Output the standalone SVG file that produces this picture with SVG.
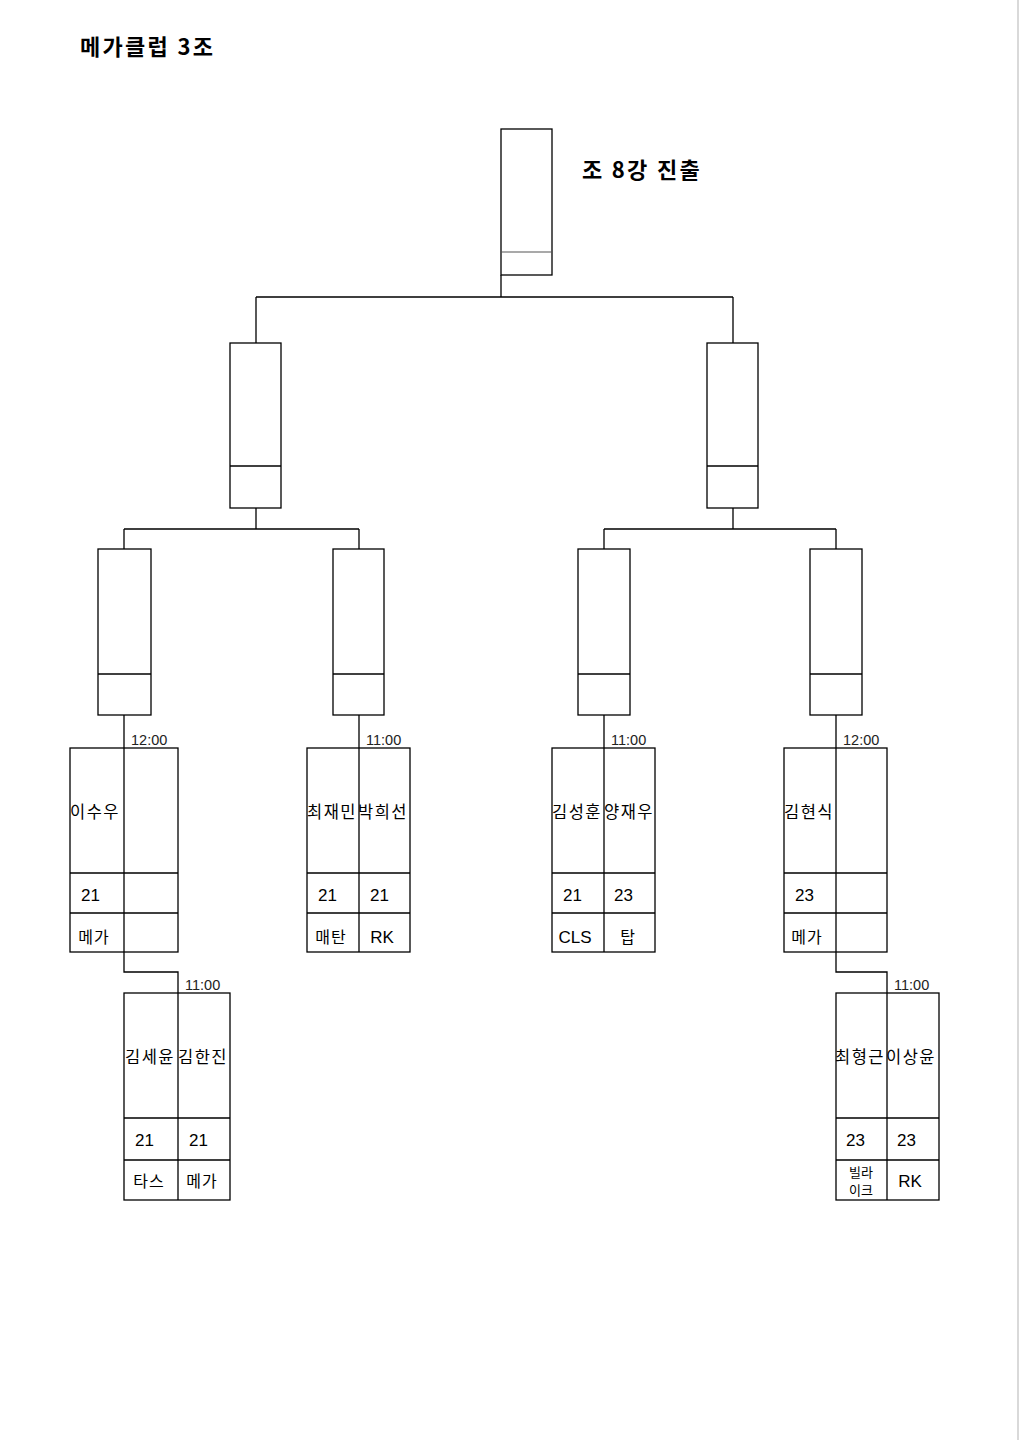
<svg xmlns="http://www.w3.org/2000/svg" width="1019" height="1440" viewBox="0 0 1019 1440">
<style>
.b{fill:none;stroke:#000;stroke-width:1.3}
.d{stroke:#555;stroke-width:1.2}
.c{fill:none;stroke:#000;stroke-width:1.3}
text{font-family:"Noto Sans CJK KR","Noto Sans",sans-serif;fill:#000}
.t{font-size:22px;font-weight:bold;letter-spacing:2.3px}
.n{font-size:16.5px;text-anchor:middle;letter-spacing:1.5px}
.s{font-size:17px;font-family:"Liberation Sans","Noto Sans CJK KR",sans-serif}
.m{font-size:16px;text-anchor:middle;letter-spacing:1px}
.l{font-size:17px;text-anchor:middle;font-family:"Liberation Sans",sans-serif}
.tm{font-size:14.5px;font-family:"Liberation Sans",sans-serif;fill:#222}
.sm{font-size:13px;text-anchor:middle}
</style>
<defs>
<clipPath id="c1"><rect x="70" y="748" width="54" height="125"/></clipPath>
<clipPath id="c3"><rect x="307" y="748" width="52" height="125"/></clipPath>
<clipPath id="c4"><rect x="359" y="748" width="51" height="125"/></clipPath>
<clipPath id="c5"><rect x="552" y="748" width="52" height="125"/></clipPath>
<clipPath id="c6"><rect x="604" y="748" width="51" height="125"/></clipPath>
<clipPath id="c7"><rect x="784" y="748" width="52" height="125"/></clipPath>
<clipPath id="c8"><rect x="124" y="993" width="54" height="125"/></clipPath>
<clipPath id="c9"><rect x="178" y="993" width="52" height="125"/></clipPath>
<clipPath id="c10"><rect x="836" y="993" width="51" height="125"/></clipPath>
<clipPath id="c11"><rect x="887" y="993" width="52" height="125"/></clipPath>
</defs>
<rect width="1019" height="1440" fill="#fff"/>
<line x1="1018" y1="0" x2="1018" y2="1440" stroke="#ccc" stroke-width="1.5"/>
<text id="title" class="t" x="80" y="55">메가클럽 3조</text>
<text id="subtitle" class="t" x="582" y="178">조 8강 진출</text>

<g id="connectors">
<path class="c" d="M501 275V297M256 297H733M256 297V343M733 297V343"/>
<path class="c" d="M256 508V529M124 529H359M124 529V549M359 529V549"/>
<path class="c" d="M733 508V529M604 529H836M604 529V549M836 529V549"/>
<path class="c" d="M124 715V972H178V1200"/>
<path class="c" d="M359 715V952M604 715V952"/>
<path class="c" d="M836 715V972H887V1200"/>
</g>

<g id="final"><rect class="b" x="501" y="129" width="51" height="146"/><line class="d" x1="501" y1="252" x2="552" y2="252"/></g>
<g id="semi-left"><rect class="b" x="230" y="343" width="51" height="165"/><line class="b" x1="230" y1="466" x2="281" y2="466"/></g>
<g id="semi-right"><rect class="b" x="707" y="343" width="51" height="165"/><line class="b" x1="707" y1="466" x2="758" y2="466"/></g>
<g id="qf1"><rect class="b" x="98" y="549" width="53" height="166"/><line class="b" x1="98" y1="674" x2="151" y2="674"/></g>
<g id="qf2"><rect class="b" x="333" y="549" width="51" height="166"/><line class="b" x1="333" y1="674" x2="384" y2="674"/></g>
<g id="qf3"><rect class="b" x="578" y="549" width="52" height="166"/><line class="b" x1="578" y1="674" x2="630" y2="674"/></g>
<g id="qf4"><rect class="b" x="810" y="549" width="52" height="166"/><line class="b" x1="810" y1="674" x2="862" y2="674"/></g>

<g id="match1">
<rect class="b" x="70" y="748" width="108" height="204"/>
<path class="b" d="M70 873H178M70 913H178"/>
<text class="tm" x="131" y="745">12:00</text>
<text class="n" x="95" y="818" clip-path="url(#c1)">이수우</text>
<text class="s" x="81" y="901">21</text>
<text class="m" x="94" y="943">메가</text>
</g>
<g id="match2">
<rect class="b" x="307" y="748" width="103" height="204"/>
<path class="b" d="M307 873H410M307 913H410"/>
<text class="tm" x="366" y="745">11:00</text>
<text class="n" x="332" y="818" clip-path="url(#c3)">최재민</text>
<text class="n" x="383" y="818" clip-path="url(#c4)">박희선</text>
<text class="s" x="318" y="901">21</text>
<text class="s" x="370" y="901">21</text>
<text class="m" x="331" y="943">매탄</text>
<text class="l" x="382" y="943">RK</text>
</g>
<g id="match3">
<rect class="b" x="552" y="748" width="103" height="204"/>
<path class="b" d="M552 873H655M552 913H655"/>
<text class="tm" x="611" y="745">11:00</text>
<text class="n" x="577" y="818" clip-path="url(#c5)">김성훈</text>
<text class="n" x="629" y="818" clip-path="url(#c6)">양재우</text>
<text class="s" x="563" y="901">21</text>
<text class="s" x="614" y="901">23</text>
<text class="l" x="575" y="943">CLS</text>
<text class="m" x="628" y="943">탑</text>
</g>
<g id="match4">
<rect class="b" x="784" y="748" width="103" height="204"/>
<path class="b" d="M784 873H887M784 913H887"/>
<text class="tm" x="843" y="745">12:00</text>
<text class="n" x="809" y="818" clip-path="url(#c7)">김현식</text>
<text class="s" x="795" y="901">23</text>
<text class="m" x="807" y="943">메가</text>
</g>
<g id="match5">
<rect class="b" x="124" y="993" width="106" height="207"/>
<path class="b" d="M124 1118H230M124 1160H230"/>
<text class="tm" x="185" y="990">11:00</text>
<text class="n" x="150" y="1063" clip-path="url(#c8)">김세윤</text>
<text class="n" x="203" y="1063" clip-path="url(#c9)">김한진</text>
<text class="s" x="135" y="1146">21</text>
<text class="s" x="189" y="1146">21</text>
<text class="m" x="149" y="1187">타스</text>
<text class="m" x="202" y="1187">메가</text>
</g>
<g id="match6">
<rect class="b" x="836" y="993" width="103" height="207"/>
<path class="b" d="M836 1118H939M836 1160H939"/>
<text class="tm" x="894" y="990">11:00</text>
<text class="n" x="860" y="1063" clip-path="url(#c10)">최형근</text>
<text class="n" x="911" y="1063" clip-path="url(#c11)">이상윤</text>
<text class="s" x="846" y="1146">23</text>
<text class="s" x="897" y="1146">23</text>
<text class="sm" x="861" y="1177">빌라</text>
<text class="sm" x="861" y="1195">이크</text>
<text class="l" x="910" y="1187">RK</text>
</g>
</svg>
